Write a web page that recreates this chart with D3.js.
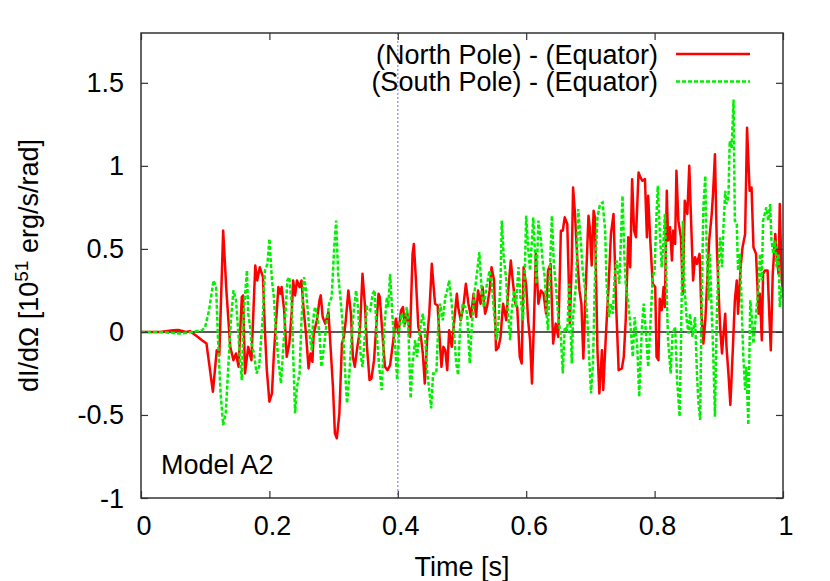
<!DOCTYPE html>
<html lang="en">
<head>
<meta charset="UTF-8">
<title>Model A2</title>
<style>
  body { margin: 0; background: #fff; }
  text { font-family: "Liberation Sans", Arial, sans-serif; fill: #000; }
</style>
</head>
<body>
<svg id="chart" width="830" height="581"></svg>
<script src="https://d3js.org/d3.v7.min.js"></script>
<script>

// [time (s), dI/dOmega (1e51 erg/s/rad)]
var north = [
  [0,0],[0.03,0],[0.05,0.01],[0.058,0.012],[0.07,0],[0.076,0.005],[0.085,-0.02],[0.095,-0.05],
  [0.102,-0.07],[0.112,-0.36],[0.118,-0.11],[0.122,-0.14],[0.128,0.61],[0.133,0.25],[0.139,-0.09],
  [0.144,-0.17],[0.148,-0.13],[0.152,-0.21],[0.157,0.21],[0.159,0.22],[0.162,-0.25],[0.167,-0.09],
  [0.172,-0.17],[0.178,0.40],[0.181,0.31],[0.185,0.39],[0.190,0.33],[0.193,0.01],[0.196,-0.23],
  [0.200,-0.42],[0.204,-0.37],[0.207,-0.13],[0.214,0.27],[0.217,0.23],[0.219,0.27],[0.223,0.13],
  [0.227,-0.15],[0.231,-0.07],[0.235,0.13],[0.237,0.31],[0.240,0.22],[0.243,0.31],[0.247,0.27],
  [0.250,0.31],[0.253,0.15],[0.257,-0.01],[0.261,-0.22],[0.264,-0.13],[0.267,-0.18],[0.269,-0.01],
  [0.274,0.07],[0.278,0.19],[0.280,0.22],[0.283,0.09],[0.287,0.05],[0.292,0.12],[0.294,-0.01],
  [0.299,-0.33],[0.302,-0.61],[0.305,-0.64],[0.309,-0.49],[0.313,-0.07],[0.316,-0.03],[0.319,0.07],
  [0.323,0.25],[0.327,0.11],[0.330,-0.15],[0.333,-0.21],[0.337,-0.09],[0.341,0.01],[0.345,0.35],
  [0.349,0.15],[0.352,-0.09],[0.356,-0.29],[0.359,-0.28],[0.363,-0.17],[0.366,0.01],[0.370,0.23],
  [0.372,0.21],[0.376,-0.01],[0.380,-0.21],[0.384,-0.23],[0.388,-0.20],[0.393,-0.05],[0.397,0.08],
  [0.401,-0.01],[0.405,0.13],[0.408,0.15],[0.411,0.05],[0.415,0.11],[0.419,-0.03],[0.423,0.47],
  [0.425,0.53],[0.428,0.33],[0.432,0.03],[0.436,-0.03],[0.439,-0.13],[0.442,-0.31],[0.446,-0.03],
  [0.449,0.11],[0.453,0.41],[0.455,0.31],[0.458,0.17],[0.462,0.16],[0.465,-0.03],[0.468,-0.21],
  [0.471,-0.09],[0.474,-0.11],[0.477,-0.23],[0.480,0.01],[0.484,-0.09],[0.488,0.07],[0.492,0.23],
  [0.494,0.15],[0.498,0.07],[0.502,0.15],[0.506,0.29],[0.510,0.17],[0.514,0.09],[0.518,0.23],
  [0.522,0.09],[0.525,0.25],[0.529,0.17],[0.532,0.27],[0.536,0.11],[0.539,0.15],[0.543,0.25],
  [0.546,0.39],[0.550,0.31],[0.553,-0.11],[0.557,-0.09],[0.560,-0.03],[0.564,0.17],[0.569,0.07],
  [0.572,0.25],[0.576,0.43],[0.579,0.31],[0.583,0.17],[0.586,0.15],[0.590,-0.15],[0.593,-0.19],
  [0.596,0.39],[0.600,0.28],[0.603,0.07],[0.606,-0.05],[0.609,-0.31],[0.612,0.05],[0.615,0.47],
  [0.619,0.17],[0.623,0.25],[0.627,0.23],[0.631,0.11],[0.634,0.37],[0.638,0.41],[0.642,-0.07],
  [0.646,0.05],[0.650,-0.03],[0.654,0.61],[0.657,0.61],[0.660,0.69],[0.664,0.65],[0.668,0.05],
  [0.671,0.43],[0.673,0.87],[0.676,0.71],[0.680,0.41],[0.683,0.25],[0.686,0.17],[0.689,-0.16],
  [0.693,0.29],[0.697,0.70],[0.699,0.63],[0.702,0.40],[0.705,0.73],[0.707,0.69],[0.711,-0.11],
  [0.714,-0.37],[0.718,-0.11],[0.720,-0.35],[0.724,-0.03],[0.728,0.25],[0.732,0.59],[0.736,0.71],
  [0.740,0.17],[0.744,-0.23],[0.749,-0.22],[0.752,-0.15],[0.755,0.07],[0.759,0.57],[0.762,0.39],
  [0.765,0.92],[0.768,0.61],[0.771,0.57],[0.775,0.96],[0.778,0.93],[0.781,0.91],[0.785,0.92],
  [0.788,0.57],[0.790,0.82],[0.793,0.57],[0.797,0.29],[0.801,0.27],[0.803,-0.15],[0.806,-0.17],
  [0.808,0.20],[0.811,0.13],[0.814,0.27],[0.816,0.15],[0.819,0.85],[0.821,0.55],[0.824,0.63],
  [0.827,0.43],[0.829,0.61],[0.832,0.53],[0.834,0.97],[0.837,0.67],[0.841,0.57],[0.844,0.23],
  [0.847,0.79],[0.851,0.71],[0.854,1.00],[0.857,0.65],[0.860,0.31],[0.863,0.45],[0.866,0.41],
  [0.870,0.47],[0.873,0.11],[0.876,-0.07],[0.879,0.07],[0.881,0.23],[0.885,0.55],[0.889,0.71],
  [0.891,0.83],[0.894,1.07],[0.897,0.51],[0.899,0.31],[0.902,0.03],[0.905,-0.13],[0.907,-0.03],
  [0.910,0.11],[0.912,-0.09],[0.915,-0.25],[0.918,-0.44],[0.922,-0.09],[0.925,0.19],[0.928,0.31],
  [0.930,0.11],[0.934,0.39],[0.937,0.51],[0.941,0.59],[0.944,1.23],[0.948,0.85],[0.951,0.87],
  [0.954,0.51],[0.958,0.47],[0.962,0.11],[0.964,0.23],[0.967,-0.05],[0.969,0.35],[0.972,0.37],
  [0.976,0.37],[0.979,0.07],[0.981,-0.11],[0.984,0.35],[0.988,0.59],[0.990,0.47],[0.993,0.35],
  [0.995,0.77],[0.998,0.31],[1.0,0.25]
];

var south = [
  [0,0],[0.03,0],[0.06,-0.01],[0.08,0],[0.095,0.01],[0.100,0.03],[0.106,0.13],[0.113,0.31],
  [0.117,0.27],[0.120,-0.05],[0.124,-0.37],[0.128,-0.56],[0.132,-0.49],[0.136,-0.21],[0.140,0.07],
  [0.144,0.25],[0.148,0.19],[0.152,-0.03],[0.154,-0.17],[0.157,-0.29],[0.160,0.11],[0.165,0.37],
  [0.167,0.11],[0.170,0.03],[0.172,-0.07],[0.176,-0.13],[0.180,-0.25],[0.184,-0.21],[0.190,0.11],
  [0.193,0.37],[0.197,0.41],[0.200,0.56],[0.204,0.31],[0.207,0.21],[0.210,0.01],[0.214,-0.17],
  [0.218,-0.31],[0.221,-0.13],[0.224,0.05],[0.228,0.31],[0.231,0.33],[0.235,0.15],[0.237,-0.13],
  [0.240,-0.49],[0.243,-0.33],[0.247,-0.25],[0.250,0.07],[0.254,0.33],[0.257,0.25],[0.261,0.07],
  [0.263,-0.03],[0.266,-0.11],[0.268,0.07],[0.271,0.15],[0.274,0.11],[0.278,-0.01],[0.281,-0.21],
  [0.285,-0.09],[0.289,0.05],[0.293,0.17],[0.297,0.21],[0.301,0.51],[0.304,0.67],[0.307,0.35],
  [0.311,0.19],[0.314,0.05],[0.318,-0.25],[0.321,-0.43],[0.324,-0.29],[0.328,-0.03],[0.332,0.15],
  [0.335,0.25],[0.338,0.15],[0.342,-0.13],[0.345,-0.21],[0.349,-0.01],[0.352,0.15],[0.357,0.13],
  [0.361,0.23],[0.364,0.25],[0.367,-0.01],[0.371,-0.21],[0.375,-0.35],[0.379,0.03],[0.383,0.21],
  [0.385,0.15],[0.388,0.35],[0.392,0.07],[0.396,-0.09],[0.399,-0.29],[0.402,0.01],[0.406,0.11],
  [0.410,0.03],[0.414,0.15],[0.416,0.07],[0.420,-0.40],[0.423,-0.19],[0.427,-0.05],[0.430,-0.15],
  [0.435,0.03],[0.439,0.11],[0.442,0.01],[0.446,-0.25],[0.449,-0.35],[0.452,-0.46],[0.455,-0.25],
  [0.460,-0.25],[0.463,0.03],[0.466,0.17],[0.470,0.07],[0.474,0.21],[0.477,0.25],[0.480,0.31],
  [0.484,0.17],[0.488,-0.03],[0.491,-0.19],[0.494,-0.26],[0.497,0.03],[0.501,0.17],[0.505,0.15],
  [0.508,0.11],[0.512,-0.19],[0.515,0.01],[0.519,0.23],[0.522,0.31],[0.527,0.48],[0.531,0.23],
  [0.534,0.15],[0.538,0.27],[0.543,0.37],[0.546,0.31],[0.550,0.11],[0.554,-0.05],[0.557,0.07],
  [0.560,0.31],[0.562,0.67],[0.565,0.45],[0.569,0.31],[0.571,0.15],[0.575,-0.05],[0.577,0.11],
  [0.581,0.25],[0.584,0.15],[0.588,0.39],[0.591,0.21],[0.595,0.07],[0.598,0.39],[0.600,0.70],
  [0.603,0.51],[0.606,0.37],[0.609,0.55],[0.611,0.69],[0.614,0.45],[0.616,0.29],[0.619,0.67],
  [0.623,0.55],[0.626,0.41],[0.629,0.33],[0.632,0.09],[0.634,0.01],[0.637,0.37],[0.640,0.70],
  [0.643,0.41],[0.646,0.29],[0.650,0.09],[0.654,-0.03],[0.657,-0.25],[0.660,0.03],[0.664,0.01],
  [0.667,0.29],[0.671,-0.19],[0.673,0.09],[0.678,0.31],[0.681,0.74],[0.685,0.55],[0.688,0.37],
  [0.692,0.25],[0.695,0.09],[0.698,-0.15],[0.701,-0.37],[0.704,-0.19],[0.707,0.31],[0.711,0.69],
  [0.715,0.77],[0.719,0.78],[0.723,0.61],[0.725,0.31],[0.729,0.09],[0.732,0.17],[0.735,0.11],
  [0.738,0.35],[0.741,0.43],[0.745,0.29],[0.748,0.61],[0.750,0.82],[0.753,0.45],[0.755,0.29],
  [0.759,0.17],[0.763,0.01],[0.766,-0.15],[0.769,0.09],[0.773,-0.09],[0.776,-0.39],[0.780,0.01],
  [0.783,0.17],[0.787,-0.03],[0.790,-0.21],[0.794,0.09],[0.797,0.33],[0.800,0.37],[0.803,0.71],
  [0.805,0.88],[0.808,0.61],[0.811,0.39],[0.814,0.55],[0.816,0.71],[0.819,0.21],[0.821,-0.05],
  [0.825,-0.25],[0.828,-0.01],[0.832,0.03],[0.835,-0.29],[0.839,-0.51],[0.841,-0.09],[0.844,0.67],
  [0.846,0.31],[0.850,0.07],[0.853,-0.01],[0.855,0.11],[0.859,-0.03],[0.863,0.09],[0.866,-0.25],
  [0.868,-0.41],[0.871,-0.53],[0.873,0.11],[0.876,0.75],[0.879,0.94],[0.881,0.51],[0.884,0.19],
  [0.886,0.47],[0.889,0.11],[0.891,-0.09],[0.894,-0.51],[0.897,0.11],[0.899,0.35],[0.902,0.57],
  [0.905,0.39],[0.907,0.61],[0.910,0.85],[0.912,0.77],[0.915,0.81],[0.917,1.15],[0.920,1.11],
  [0.923,1.40],[0.925,0.67],[0.928,0.65],[0.930,0.37],[0.933,0.47],[0.936,0.11],[0.938,-0.13],
  [0.941,-0.35],[0.943,-0.21],[0.946,-0.56],[0.949,0.19],[0.951,0.11],[0.954,-0.07],[0.958,0.11],
  [0.962,0.27],[0.964,0.47],[0.967,0.31],[0.969,0.67],[0.974,0.75],[0.977,0.67],[0.980,0.77],
  [0.982,0.55],[0.985,0.47],[0.988,0.55],[0.990,0.39],[0.993,0.47],[0.995,0.15],[0.998,0.27],
  [1.0,0.2]
];

var xTicks = [0, 0.2, 0.4, 0.6, 0.8, 1];
var yTicks = [-1, -0.5, 0, 0.5, 1, 1.5];
var seriesNames = ["(North Pole) - (Equator)", "(South Pole) - (Equator)"];
var markerTime = 0.4;

var svg = d3.select("#chart"),
    pL = 141, pR = 783, pT = 33, pB = 498;

var x = d3.scaleLinear().domain([0, 1]).range([pL, pR]);
var y = d3.scaleLinear().domain([-1, 1.8]).range([pB, pT]);

svg.append("defs").append("clipPath").attr("id", "clip")
  .append("rect").attr("x", pL).attr("y", pT)
  .attr("width", pR - pL).attr("height", pB - pT);

var plot = svg.append("g").attr("clip-path", "url(#clip)");

// zero line
plot.append("line")
  .attr("x1", x(0)).attr("x2", x(1))
  .attr("y1", y(0)).attr("y2", y(0))
  .attr("stroke", "#222").attr("stroke-width", 1.5);

// t = 0.4 s marker
plot.append("line")
  .attr("x1", x(markerTime)).attr("x2", x(markerTime))
  .attr("y1", pT).attr("y2", pB)
  .attr("stroke", "#8c8cff").attr("stroke-width", 1.3)
  .attr("stroke-dasharray", "2,2");

var line = d3.line().x(function (d) { return x(d[0]); }).y(function (d) { return y(d[1]); });

plot.append("path").datum(north)
  .attr("d", line).attr("fill", "none")
  .attr("stroke", "#ff0000").attr("stroke-width", 2.5).attr("stroke-linejoin", "round");

plot.append("path").datum(south)
  .attr("d", line).attr("fill", "none")
  .attr("stroke", "#00f000").attr("stroke-width", 2.5)
  .attr("stroke-dasharray", "4,2");

// axes (gnuplot style: inward ticks on all four sides)
var tl = 7;
svg.append("g").attr("transform", "translate(0," + pB + ")")
  .call(d3.axisBottom(x).tickValues(xTicks).tickSize(-tl).tickFormat(""));
svg.append("g").attr("transform", "translate(0," + pT + ")")
  .call(d3.axisTop(x).tickValues(xTicks).tickSize(-tl).tickFormat(""));
svg.append("g").attr("transform", "translate(" + pL + ",0)")
  .call(d3.axisLeft(y).tickValues(yTicks).tickSize(-tl).tickFormat(""));
svg.append("g").attr("transform", "translate(" + pR + ",0)")
  .call(d3.axisRight(y).tickValues(yTicks).tickSize(-tl).tickFormat(""));
svg.selectAll(".domain").remove();
svg.selectAll(".tick line").attr("stroke", "#333").attr("stroke-width", 1.2);

svg.append("rect")
  .attr("x", pL).attr("y", pT)
  .attr("width", pR - pL).attr("height", pB - pT)
  .attr("fill", "none").attr("stroke", "#333").attr("stroke-width", 1.5);

// tick labels
svg.selectAll(".xlab").data(xTicks).enter().append("text")
  .attr("x", function (d) { return x(d) + 3; }).attr("y", 535)
  .attr("text-anchor", "middle").style("font-size", "27px")
  .text(function (d) { return d; });

svg.selectAll(".ylab").data(yTicks).enter().append("text")
  .attr("x", 124).attr("y", function (d) { return y(d) + 9.5; })
  .attr("text-anchor", "end").style("font-size", "27px")
  .text(function (d) { return d; });

// axis titles
svg.append("text").attr("x", (pL + pR) / 2).attr("y", 576)
  .attr("text-anchor", "middle").style("font-size", "27px").text("Time [s]");

var yt = svg.append("text")
  .attr("transform", "translate(38," + ((pT + pB) / 2) + ") rotate(-90)")
  .attr("text-anchor", "middle").style("font-size", "27px");
yt.append("tspan").text("dI/dΩ [10");
yt.append("tspan").attr("dy", -10).style("font-size", "19px").text("51");
yt.append("tspan").attr("dy", 10).text(" erg/s/rad]");

svg.append("text").attr("x", 161).attr("y", 474)
  .style("font-size", "27px").text("Model A2");

// legend
var leg = svg.append("g");
leg.selectAll("text").data(seriesNames).enter().append("text")
  .attr("x", 658).attr("y", function (d, i) { return 63.5 + i * 27.5; })
  .attr("text-anchor", "end").style("font-size", "27px")
  .text(function (d) { return d; });
leg.append("line").attr("x1", 676).attr("x2", 750).attr("y1", 54).attr("y2", 54)
  .attr("stroke", "#ff0000").attr("stroke-width", 2.5);
leg.append("line").attr("x1", 676).attr("x2", 750).attr("y1", 81.5).attr("y2", 81.5)
  .attr("stroke", "#00f000").attr("stroke-width", 2.5).attr("stroke-dasharray", "4,2");

</script>
</body>
</html>
